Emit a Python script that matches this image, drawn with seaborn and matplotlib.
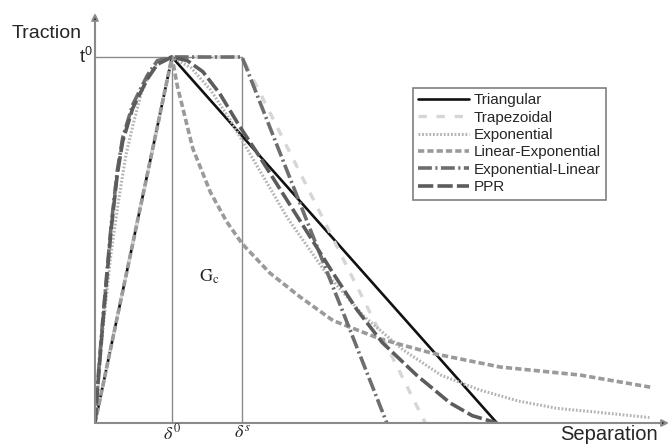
import numpy as np
import pandas as pd
import seaborn as sns
import matplotlib.pyplot as plt

# separation in units of delta0, traction in units of t0
d0 = 1.0
ds = 1.91

tri_x = [0, 1.0, 5.22]
tri_y = [0, 1.0, 0]

trap_x = [0, 1.0, 1.91, 4.29]
trap_y = [0, 1.0, 1.0, 0]

exp_x = [0, 0.1, 0.2, 0.3, 0.4, 0.5, 0.6, 0.7, 0.8, 0.9, 1.0,
         1.25, 1.5, 1.75, 2.0, 2.5, 3.0, 3.5, 4.0, 4.5, 5.0, 5.5, 6.0, 6.5, 7.2]
exp_y = [0, 0.25, 0.45, 0.60, 0.73, 0.82, 0.90, 0.95, 0.98, 0.99, 1.0,
         0.97, 0.91, 0.83, 0.74, 0.56, 0.41, 0.29, 0.20, 0.13, 0.09, 0.06, 0.04, 0.03, 0.015]

linexp_x = [0, 1.0, 1.07, 1.27, 1.50, 1.71, 1.91, 2.27, 2.66, 3.09, 3.70, 4.39, 5.26, 6.30, 7.21]
linexp_y = [0, 1.0, 0.92, 0.75, 0.63, 0.55, 0.49, 0.41, 0.345, 0.28, 0.23, 0.19, 0.153, 0.131, 0.098]

explin_x = [0, 0.05, 0.10, 0.15, 0.21, 0.29, 0.36, 0.49, 0.68, 0.81, 1.0, 1.91, 3.79]
explin_y = [0, 0.15, 0.28, 0.40, 0.54, 0.69, 0.78, 0.87, 0.95, 0.99, 1.0, 1.0, 0]

ppr_x = [0, 0.05, 0.10, 0.15, 0.21, 0.29, 0.36, 0.49, 0.68, 0.81, 1.0,
         1.20, 1.40, 1.62, 1.88, 2.10, 2.40, 2.79, 3.09, 3.40, 3.73, 4.18, 4.61, 4.90, 5.22]
ppr_y = [0, 0.14, 0.27, 0.39, 0.53, 0.68, 0.77, 0.86, 0.94, 0.98, 1.0,
         0.99, 0.96, 0.90, 0.81, 0.74, 0.64, 0.51, 0.41, 0.31, 0.22, 0.13, 0.055, 0.02, 0]

series = [
    ("Triangular", tri_x, tri_y, "#111111", 1.9, "-"),
    ("Trapezoidal", trap_x, trap_y, "#d6d6d6", 2.4, (0, (6, 7))),
    ("Exponential", exp_x, exp_y, "#b4b4b4", 2.2, (0, (1.3, 1.3))),
    ("Linear-Exponential", linexp_x, linexp_y, "#9a9a9a", 2.6, (0, (4.5, 2.2))),
    ("Exponential-Linear", explin_x, explin_y, "#6e6e6e", 2.6, (0, (10, 2.5, 1.5, 2.5))),
    ("PPR", ppr_x, ppr_y, "#5c5c5c", 2.6, (0, (11, 3))),
]

sns.set_style("white")
plt.rcParams["font.family"] = ["Liberation Sans", "DejaVu Sans"]
plt.rcParams["mathtext.fontset"] = "stix"
plt.rcParams["lines.scale_dashes"] = False

fig = plt.figure(figsize=(6.69, 4.45), dpi=100)
ax = fig.add_axes([95 / 669, 22 / 445, 574 / 669, 410 / 445])
ax.set_xlim(0, 574 / 77)
ax.set_ylim(0, 410 / 366)

# guide lines for t0, delta0 and delta_s
guide = "#8a8a8a"
ax.plot([0, ds], [1, 1], color=guide, lw=1.0)
ax.plot([d0, d0], [0, 1], color=guide, lw=1.0)
ax.plot([ds, ds], [0, 1], color=guide, lw=1.0)

for name, xs, ys, col, lw, ls in series:
    sns.lineplot(x=xs, y=ys, ax=ax, sort=False, estimator=None, color=col,
                 lw=lw, linestyle=ls, label=name)

# axes drawn as arrows
for s in ax.spines.values():
    s.set_visible(False)
ax.set_xticks([])
ax.set_yticks([])
arrow = dict(arrowstyle="-|>", lw=1.5, ec="#8a8a8a", fc="#222222",
             shrinkA=0, shrinkB=0, mutation_scale=10)
ax.annotate("", xy=(1, 0), xytext=(0, 0), xycoords="axes fraction",
            arrowprops=arrow, annotation_clip=False)
ax.annotate("", xy=(0, 1), xytext=(0, 0), xycoords="axes fraction",
            arrowprops=arrow, annotation_clip=False)

ax.text(-0.03, 1.0, r"$\mathregular{t^0}$", fontsize=13, ha="right", va="center")
ax.text(d0, -0.028, r"$\delta^0$", fontsize=13, ha="center", va="center", clip_on=False)
ax.text(ds, -0.028, r"$\delta^s$", fontsize=13, ha="center", va="center", clip_on=False)
ax.text(1.49, 0.40, r"$\mathrm{G_c}$", fontsize=13, ha="center", va="center")

fig.text(12 / 669, 1 - 33 / 445, "Traction", fontsize=14, ha="left", va="center")
fig.text(658 / 669, 5 / 445, "Separation", fontsize=14.5, ha="right", va="baseline")

leg = ax.legend(loc="upper left", bbox_to_anchor=(413 / 669, 1 - 88 / 445),
                bbox_transform=fig.transFigure, borderaxespad=0, fontsize=11,
                handlelength=3.3, handletextpad=0.35, borderpad=0.35,
                labelspacing=0.22, fancybox=False, framealpha=1)
leg.get_frame().set_edgecolor("#7f7f7f")
leg.get_frame().set_linewidth(1.2)

fig.savefig("out.png", dpi=100)
